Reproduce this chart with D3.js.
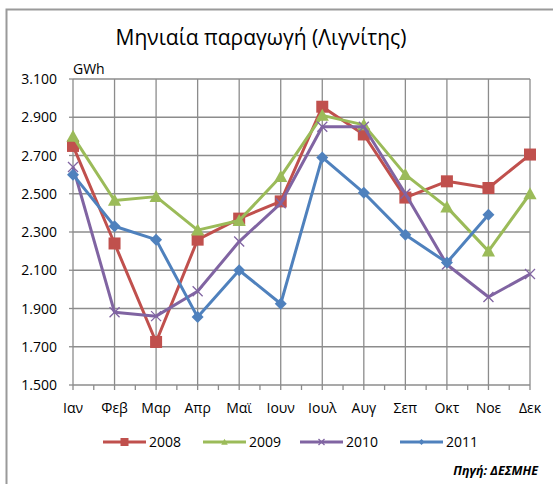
<!DOCTYPE html>
<html>
<head>
<meta charset="utf-8">
<script src="https://cdn.jsdelivr.net/npm/d3@7"></script>
<style>
  body { margin: 0; background: #fff; }
  text { font-family: "Open Sans", "Liberation Sans", sans-serif; }
</style>
</head>
<body>
<div id="chart"></div>
<script>
// Monthly lignite production (GWh)
const months = ["Ιαν", "Φεβ", "Μαρ", "Απρ", "Μαϊ", "Ιουν", "Ιουλ", "Αυγ", "Σεπ", "Οκτ", "Νοε", "Δεκ"];
const years = ["2008", "2009", "2010", "2011"];
const values2008 = [2750, 2240, 1725, 2260, 2370, 2460, 2955, 2810, 2480, 2565, 2530, 2705];
const values2009 = [2800, 2465, 2485, 2310, 2360, 2590, 2910, 2860, 2600, 2430, 2200, 2500];
const values2010 = [2640, 1880, 1860, 1990, 2250, 2450, 2850, 2850, 2500, 2130, 1960, 2080];
const values2011 = [2600, 2330, 2260, 1855, 2100, 1925, 2690, 2505, 2285, 2140, 2390, null];
const yTicks = [1500, 1700, 1900, 2100, 2300, 2500, 2700, 2900, 3100];

const seriesList = [
  { name: years[0], values: values2008, color: "#C0504D", marker: "square" },
  { name: years[1], values: values2009, color: "#9BBB59", marker: "triangle" },
  { name: years[2], values: values2010, color: "#8064A2", marker: "cross" },
  { name: years[3], values: values2011, color: "#4F81BD", marker: "diamond" },
];

const width = 553, height = 484;
const margin = { top: 79, right: 23, bottom: 99, left: 73 };

const svg = d3.select("#chart").append("svg")
  .attr("width", width)
  .attr("height", height);

// ── Frame ──
svg.append("path")
  .attr("d", `M 6.5 ${height} V 9.5 H ${width}`)
  .attr("fill", "none")
  .attr("stroke", "#9a9a9a")
  .attr("stroke-width", 2);

// ── Title ──
svg.append("text")
  .attr("x", 261)
  .attr("y", 45)
  .attr("text-anchor", "middle")
  .attr("font-size", "21px")
  .attr("fill", "#000")
  .text("Μηνιαία παραγωγή (Λιγνίτης)");

const x = d3.scalePoint()
  .domain(months)
  .range([margin.left, width - margin.right]);

const y = d3.scaleLinear()
  .domain([1500, 3100])
  .range([height - margin.bottom, margin.top]);

const fmt = (v) => d3.format(".3f")(v / 1000);

// ── Grid ──
const grid = svg.append("g").attr("stroke", "#8c8c8c").attr("stroke-width", 1.3);
yTicks.forEach((t) => {
  grid.append("line")
    .attr("x1", margin.left).attr("x2", width - margin.right)
    .attr("y1", y(t)).attr("y2", y(t));
});
months.forEach((m) => {
  grid.append("line")
    .attr("x1", x(m)).attr("x2", x(m))
    .attr("y1", margin.top).attr("y2", y(1500) + 5);
});
// minor ticks between months
const step = x.step();
months.slice(0, -1).forEach((m) => {
  grid.append("line")
    .attr("x1", x(m) + step / 2).attr("x2", x(m) + step / 2)
    .attr("y1", y(1500)).attr("y2", y(1500) + 5);
});
// tick marks on y axis
yTicks.forEach((t) => {
  grid.append("line")
    .attr("x1", margin.left - 4).attr("x2", margin.left)
    .attr("y1", y(t)).attr("y2", y(t));
});

// ── Y labels ──
svg.append("g").selectAll("text")
  .data(yTicks)
  .join("text")
  .attr("x", 57)
  .attr("y", (d) => y(d) + 5)
  .attr("text-anchor", "end")
  .attr("font-size", "14px")
  .attr("fill", "#000")
  .text(fmt);

svg.append("text")
  .attr("x", 73)
  .attr("y", 74)
  .attr("font-size", "14px")
  .attr("fill", "#000")
  .text("GWh");

// ── X labels ──
svg.append("g").selectAll("text")
  .data(months)
  .join("text")
  .attr("x", (d) => x(d))
  .attr("y", 413)
  .attr("text-anchor", "middle")
  .attr("font-size", "14px")
  .attr("fill", "#000")
  .text((d) => d);

// ── Markers ──
function drawMarker(g, type, cx, cy, color, s) {
  if (type === "square") {
    g.append("rect")
      .attr("x", cx - s).attr("y", cy - s)
      .attr("width", 2 * s).attr("height", 2 * s)
      .attr("fill", color);
  } else if (type === "triangle") {
    g.append("path")
      .attr("d", `M ${cx} ${cy - s * 1.1} L ${cx + s * 1.1} ${cy + s * 0.9} L ${cx - s * 1.1} ${cy + s * 0.9} Z`)
      .attr("fill", color);
  } else if (type === "diamond") {
    g.append("path")
      .attr("d", `M ${cx} ${cy - s} L ${cx + s} ${cy} L ${cx} ${cy + s} L ${cx - s} ${cy} Z`)
      .attr("fill", color);
  } else if (type === "cross") {
    g.append("path")
      .attr("d", `M ${cx - s} ${cy - s} L ${cx + s} ${cy + s} M ${cx - s} ${cy + s} L ${cx + s} ${cy - s}`)
      .attr("stroke", color)
      .attr("stroke-width", 1.3);
  }
}

const line = d3.line()
  .defined((d) => d.v != null)
  .x((d) => x(d.m))
  .y((d) => y(d.v));

seriesList.forEach((s) => {
  const pts = months.map((m, i) => ({ m, v: s.values[i] }));
  const g = svg.append("g");
  g.append("path")
    .datum(pts)
    .attr("d", line)
    .attr("fill", "none")
    .attr("stroke", s.color)
    .attr("stroke-width", 3)
    .attr("stroke-linejoin", "round");
  pts.filter((d) => d.v != null).forEach((d) => {
    const size = s.marker === "cross" ? 5 : 6;
    drawMarker(g, s.marker, x(d.m), y(d.v), s.color, size);
  });
});

// ── Legend ──
const legendX = [103, 203, 300, 400];
seriesList.forEach((s, i) => {
  const lg = svg.append("g").attr("transform", `translate(${legendX[i]}, 442)`);
  lg.append("line")
    .attr("x1", 0).attr("x2", 43)
    .attr("y1", 0).attr("y2", 0)
    .attr("stroke", s.color)
    .attr("stroke-width", 3);
  drawMarker(lg, s.marker, 21.5, 0, s.color, s.marker === "square" ? 4 : 3);
  lg.append("text")
    .attr("x", 46)
    .attr("y", 5)
    .attr("font-size", "14px")
    .attr("fill", "#000")
    .text(s.name);
});

// ── Source ──
svg.append("text")
  .attr("x", 538)
  .attr("y", 475)
  .attr("text-anchor", "end")
  .attr("font-size", "12.5px")
  .attr("font-style", "italic")
  .attr("font-weight", "bold")
  .attr("fill", "#000")
  .text("Πηγή: ΔΕΣΜΗΕ");
</script>
</body>
</html>
